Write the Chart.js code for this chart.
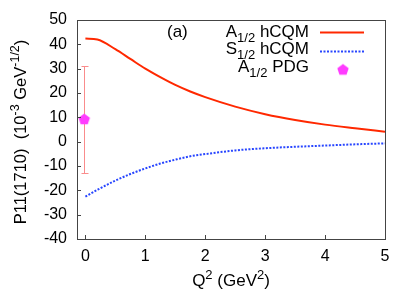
<!DOCTYPE html>
<html><head><meta charset="utf-8">
<script src="https://cdn.jsdelivr.net/npm/chart.js@4.4.1/dist/chart.umd.min.js"></script>
<style>html,body{margin:0;padding:0;background:#fff}#wrap{width:415px;height:291px}</style>
</head><body><div id="wrap"><canvas id="c" width="415" height="291"></canvas></div>
<script>
// ---- data ----
const q2 = [0, 0.2, 0.5, 0.75, 1, 1.25, 1.5, 1.75, 2, 2.5, 3, 3.5, 4, 4.5, 5];
const a12hCQM = [42.4, 42.0, 38.0, 34.0, 30.0, 26.5, 23.3, 20.6, 18.3, 14.4, 11.3, 8.9, 7.0, 5.5, 4.1];
const s12hCQM = [-22.6, -19.8, -16.0, -13.3, -11.0, -9.0, -7.4, -6.0, -5.1, -3.6, -2.7, -2.1, -1.6, -1.1, -0.7];
const pdgQ2 = [-0.02];
const pdgA12 = [9.3];
const pdgLow = [-13];
const pdgHigh = [31];
const xTicks = [0, 1, 2, 3, 4, 5];
const yTicks = [-40, -30, -20, -10, 0, 10, 20, 30, 40, 50];

const FONT = '"Liberation Sans", Arial, Helvetica, sans-serif';
const RED = 'rgb(255,40,0)';
const BLUE = 'rgb(40,70,255)';
const MAG = 'rgb(255,60,255)';
const AXC = '#444';

function pentagon(r){
  const c = document.createElement('canvas');
  c.width = c.height = 2*r+2;
  const g = c.getContext('2d');
  g.fillStyle = MAG; g.beginPath();
  for (let i=0;i<5;i++){
    const a = -Math.PI/2 + i*2*Math.PI/5;
    const px = r+1 + r*Math.cos(a), py = r+1 + r*Math.sin(a)+0.5;
    i? g.lineTo(px,py) : g.moveTo(px,py);
  }
  g.closePath(); g.fill();
  return c;
}
const penta = pentagon(6);

function drawRich(ctx, segs, x, y, align, big, small){
  let w = 0;
  segs.forEach(s => { ctx.font = (s.sub||s.sup ? small : big) + 'px ' + FONT; s.w = ctx.measureText(s.t).width; w += s.w; });
  let cx = align === 'right' ? x - w : align === 'center' ? x - w/2 : x;
  ctx.textAlign = 'left'; ctx.textBaseline = 'alphabetic';
  segs.forEach(s => {
    ctx.font = (s.sub||s.sup ? small : big) + 'px ' + FONT;
    const dy = s.sub ? 5 : s.sup ? -7 : 0;
    ctx.fillText(s.t, cx, y + dy);
    cx += s.w;
  });
}

const decor = {
  id: 'decor',
  beforeDatasetsDraw(chart){
    const {ctx, scales:{x, y}} = chart;
    ctx.save();
    ctx.strokeStyle = 'rgb(250,140,140)'; ctx.lineWidth = 1;
    for (let i=0;i<pdgQ2.length;i++){
      const px = Math.round(x.getPixelForValue(pdgQ2[i]))+0.5;
      const y1 = y.getPixelForValue(pdgLow[i]), y2 = y.getPixelForValue(pdgHigh[i]);
      ctx.beginPath();
      ctx.moveTo(px, y1); ctx.lineTo(px, y2);
      ctx.moveTo(px-3, Math.round(y1)+0.5); ctx.lineTo(px+4, Math.round(y1)+0.5);
      ctx.moveTo(px-3, Math.round(y2)+0.5); ctx.lineTo(px+4, Math.round(y2)+0.5);
      ctx.stroke();
    }
    ctx.restore();
  },
  afterDatasetsDraw(chart){
    const {ctx, chartArea:a, scales:{x, y}} = chart;
    ctx.save();
    // border
    ctx.strokeStyle = AXC; ctx.lineWidth = 1;
    ctx.strokeRect(Math.round(a.left)+0.5, Math.round(a.top)+0.5, Math.round(a.right-a.left), Math.round(a.bottom-a.top));
    // inward ticks
    ctx.beginPath();
    yTicks.forEach(v => { const py = Math.round(y.getPixelForValue(v))+0.5; ctx.moveTo(a.left, py); ctx.lineTo(a.left+4, py); });
    xTicks.forEach(v => { const px = Math.round(x.getPixelForValue(v))+0.5; ctx.moveTo(px, a.bottom); ctx.lineTo(px, a.bottom-4); });
    ctx.stroke();
    // texts
    ctx.fillStyle = '#000';
    drawRich(ctx, [{t:'(a)'}], 167, 37, 'left', 17, 13);
    drawRich(ctx, [{t:'A'},{t:'1/2',sub:true},{t:' hCQM'}], 309, 37, 'right', 17, 13);
    drawRich(ctx, [{t:'S'},{t:'1/2',sub:true},{t:' hCQM'}], 309, 54, 'right', 17, 13);
    drawRich(ctx, [{t:'A'},{t:'1/2',sub:true},{t:' PDG'}], 309, 72, 'right', 17, 13);
    // legend samples
    ctx.lineWidth = 2;
    ctx.strokeStyle = RED; ctx.beginPath(); ctx.moveTo(320, 32.5); ctx.lineTo(364, 32.5); ctx.stroke();
    ctx.strokeStyle = BLUE; ctx.setLineDash([2,1.5]); ctx.beginPath(); ctx.moveTo(320, 51.5); ctx.lineTo(364, 51.5); ctx.stroke();
    ctx.setLineDash([]);
    ctx.drawImage(penta, 343 - penta.width/2, 69.5 - penta.height/2);
    // axis titles
    drawRich(ctx, [{t:'Q'},{t:'2',sup:true},{t:' (GeV'},{t:'2',sup:true},{t:')'}], (a.left+a.right)/2, 286, 'center', 17, 13);
    ctx.translate(26, 132); ctx.rotate(-Math.PI/2);
    drawRich(ctx, [{t:'P11(1710)  (10'},{t:'-3',sup:true},{t:' GeV'},{t:'-1/2',sup:true},{t:')'}], 0, 0, 'center', 16.5, 12.5);
    ctx.restore();
  }
};

const pts = (xs, ys) => xs.map((v,i) => ({x:v, y:ys[i]}));

new Chart(document.getElementById('c'), {
  type: 'scatter',
  data: { datasets: [
    { label:'A1/2 hCQM', data: pts(q2, a12hCQM), showLine:true, borderColor:RED, borderWidth:2, pointRadius:0, cubicInterpolationMode:'monotone', fill:false },
    { label:'S1/2 hCQM', data: pts(q2, s12hCQM), showLine:true, borderColor:BLUE, borderWidth:2, borderDash:[2,1.5], pointRadius:0, cubicInterpolationMode:'monotone', fill:false },
    { label:'A1/2 PDG', data: pts(pdgQ2, pdgA12), showLine:false, pointStyle: penta, pointRadius:6, backgroundColor:MAG }
  ]},
  options: {
    responsive:false, animation:false, devicePixelRatio:1,
    layout: { padding: { top:20, right:30, left:0, bottom:0 } },
    plugins: { legend:{display:false}, tooltip:{enabled:false} },
    scales: {
      x: { type:'linear', min:-0.14, max:5,
        afterBuildTicks: s => { s.ticks = xTicks.map(v => ({value:v})); },
        afterFit: s => { s.height = 52; },
        grid:{display:false, drawTicks:false}, border:{display:false},
        ticks:{ color:'#000', font:{family:FONT, size:16}, padding:8, maxRotation:0 } },
      y: { type:'linear', min:-40, max:50,
        afterBuildTicks: s => { s.ticks = yTicks.map(v => ({value:v})); },
        afterFit: s => { s.width = 77; },
        grid:{display:false, drawTicks:false}, border:{display:false},
        ticks:{ color:'#000', font:{family:FONT, size:16}, padding:10 } }
    }
  },
  plugins: [decor]
});
</script></body></html>
